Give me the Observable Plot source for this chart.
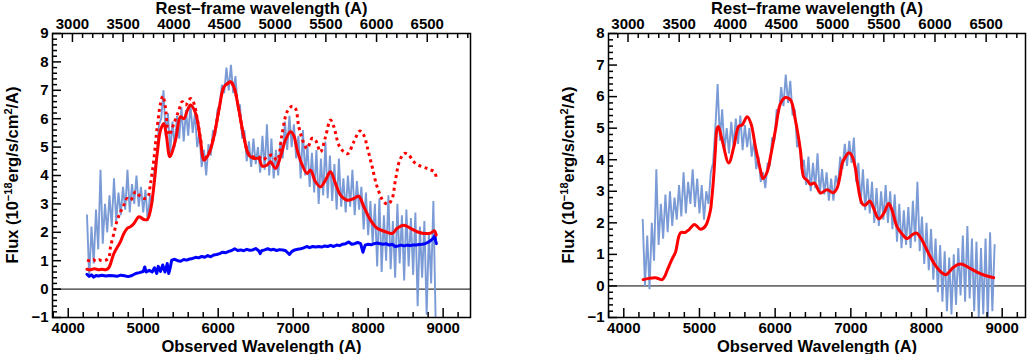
<!DOCTYPE html>
<html><head><meta charset="utf-8">
<script src="https://cdn.jsdelivr.net/npm/d3@7"></script>
<script src="https://cdn.jsdelivr.net/npm/@observablehq/plot@0.6"></script>
<style>
html,body{margin:0;padding:0;background:#fff;}
#wrap{display:flex;width:1028px;height:354px;overflow:hidden;}
#wrap > div{width:514px;height:354px;}
</style></head><body><div id="wrap"><div id="left"></div><div id="right"></div></div>
<script>
// ---------- data ----------
const zFactor = 1.352; // 1 + redshift (rest -> observed)
const obsTicks = [4000, 5000, 6000, 7000, 8000, 9000];
const restTicks = [3000, 3500, 4000, 4500, 5000, 5500, 6000, 6500];
const leftYTicks = [-1, 0, 1, 2, 3, 4, 5, 6, 7, 8, 9];
const rightYTicks = [-1, 0, 1, 2, 3, 4, 5, 6, 7, 8];

// observed spectrum sampled on a 30 A grid starting at 4250 A
const noiseStart = 4250, noiseStep = 30;
const leftNoise = [
  2.6,0.4,2.2,0.9,2.8,1.4,4.2,1.6,3.0,2.0,
  3.3,2.2,3.9,2.4,3.4,2.6,3.6,2.8,4.2,2.7,
  3.7,3.0,4.0,2.9,3.6,2.7,3.5,2.4,3.3,3.0,
  4.2,4.6,5.8,6.0,7.0,5.4,6.2,4.8,5.9,5.0,
  6.1,5.3,6.4,5.2,6.3,5.4,6.5,5.5,6.2,5.0,
  5.5,4.3,4.9,4.0,5.1,4.7,5.6,5.4,6.3,6.5,
  7.2,6.9,7.8,7.0,7.9,6.9,7.5,6.4,6.5,5.3,
  5.6,4.5,5.2,4.3,5.3,4.4,5.0,4.1,5.4,4.2,
  5.8,4.0,5.3,3.9,4.9,4.0,5.2,4.6,5.9,4.9,
  6.1,5.0,5.8,4.6,5.4,3.9,5.6,4.0,5.1,3.6,
  4.8,3.4,4.9,3.0,4.6,3.3,5.2,3.2,4.7,3.1,
  4.4,2.8,4.6,2.9,3.9,2.7,4.0,2.9,4.2,2.6,
  3.8,2.8,3.6,2.1,3.4,1.9,3.1,1.6,3.0,0.8,
  3.2,0.6,2.6,1.0,3.3,0.7,2.4,0.4,3.0,0.9,
  2.6,0.3,2.8,0.8,2.5,0.5,2.7,-0.6,2.2,0.4,
  2.4,-0.9,2.0,0.2,3.1,-1.1
];
const rightNoise = [
  2.1,0.0,1.6,-0.1,2.0,0.8,3.7,1.3,2.6,1.5,
  2.9,1.7,3.0,1.9,2.8,2.1,3.2,2.2,3.6,2.3,
  3.3,2.6,3.7,2.5,3.4,2.3,3.2,2.1,3.0,2.6,
  3.6,3.9,5.0,6.4,4.6,5.6,4.3,5.0,4.2,5.2,
  4.4,5.3,4.5,5.4,4.3,5.1,4.4,5.0,4.1,4.6,
  3.7,4.1,3.3,3.6,3.1,3.9,3.8,4.7,4.6,5.6,
  5.5,6.3,5.7,6.7,5.8,6.5,5.4,5.6,4.4,4.6,
  3.7,4.0,3.2,4.1,3.0,3.9,3.1,4.2,2.9,3.7,
  2.9,3.6,2.7,3.4,2.7,3.5,3.2,4.1,3.7,4.5,
  3.8,4.6,3.9,4.7,3.3,3.9,2.6,3.7,2.4,3.4,
  2.3,3.3,2.0,3.1,1.9,3.0,2.1,3.2,2.0,3.0,
  1.8,2.9,1.4,2.6,1.2,2.4,1.3,2.5,1.2,2.7,
  1.4,3.3,1.1,2.2,0.7,2.0,0.5,1.8,0.2,1.5,
  -0.2,1.3,-0.5,1.1,-0.8,0.9,-0.9,1.0,-0.6,1.2,
  -0.3,1.6,-0.5,1.9,-0.4,1.5,-0.8,1.4,-1.0,1.2,
  -0.9,1.5,-1.1,1.7,-0.8,1.3
];

// left: model fit (solid red)
const leftFitWave = [4250,4300,4350,4400,4450,4500,4540,4610,4697,4740,4787,4831,4876,4942,4980,5009,5053,5097,5141,5187,5231,5275,5311,5355,5431,5497,5542,5590,5631,5698,5764,5809,5876,5942,6009,6076,6130,6164,6209,6276,6342,6409,6476,6542,6587,6653,6697,6764,6831,6897,6964,7009,7053,7120,7187,7231,7297,7364,7431,7497,7564,7631,7720,7809,7875,7942,8031,8120,8231,8320,8387,8475,8564,8653,8742,8831,8884,8907];
const leftFitFlux = [0.70,0.68,0.72,0.68,0.70,0.68,0.75,1.26,1.67,1.95,2.14,2.20,2.31,2.55,2.50,2.45,2.45,2.78,3.60,4.78,5.60,5.83,5.36,4.66,5.25,6.07,6.00,6.30,6.48,6.19,5.25,4.54,4.77,5.36,6.30,7.12,7.25,7.30,7.12,6.30,5.36,4.72,4.60,4.60,4.33,4.37,4.48,4.25,4.66,5.25,5.54,5.40,4.90,4.37,4.07,4.19,3.78,3.60,3.84,4.13,3.72,3.31,3.13,3.19,3.27,2.90,2.43,2.14,2.02,1.96,2.14,2.25,2.14,2.02,1.96,1.97,2.05,1.90];

// left: alternative model (dotted red)
const leftDotWave = [4250,4290,4330,4370,4410,4450,4500,4540,4564,4609,4653,4698,4742,4787,4831,4898,4942,5009,5062,5097,5141,5187,5231,5262,5298,5342,5409,5476,5520,5564,5631,5676,5720,5764,5809,5876,5942,6009,6076,6130,6164,6209,6276,6342,6409,6476,6542,6600,6653,6720,6786,6853,6920,6987,7031,7075,7142,7187,7253,7297,7364,7431,7497,7542,7609,7675,7729,7809,7889,7942,7987,8053,8120,8209,8267,8320,8364,8422,8484,8542,8609,8698,8787,8840,8884,8911];
const leftDotFlux = [1.02,1.00,1.05,0.98,1.03,1.00,1.02,1.10,1.49,1.96,2.43,2.72,2.96,3.19,3.13,3.43,3.31,3.19,3.25,3.72,4.54,5.72,6.54,6.80,6.36,5.42,5.83,6.30,6.60,6.48,6.71,6.54,6.00,5.30,4.60,4.80,5.38,6.30,7.12,7.25,7.30,7.12,6.30,5.36,4.75,4.65,4.65,4.55,4.66,4.72,4.54,5.48,6.25,6.44,6.36,5.72,5.13,4.95,5.31,5.25,4.83,5.36,5.95,5.72,5.07,4.83,4.77,5.19,5.57,5.42,5.01,4.31,3.60,3.07,2.99,3.19,3.84,4.54,4.78,4.72,4.48,4.33,4.25,4.19,4.13,3.90];

// left: continuum (blue)
const leftContWave = [4250,4280,4310,4340,4370,4400,4450,4500,4550,4600,4650,4700,4750,4800,4850,4900,4950,5000,5020,5040,5080,5120,5150,5180,5200,5230,5260,5290,5320,5340,5360,5380,5420,5460,5500,5540,5580,5620,5660,5700,5740,5780,5820,5860,5900,5940,5980,6020,6060,6100,6140,6180,6220,6260,6300,6340,6380,6420,6460,6500,6540,6560,6580,6620,6660,6700,6740,6780,6820,6860,6900,6950,6980,7020,7060,7100,7140,7180,7220,7260,7300,7340,7380,7420,7460,7500,7540,7580,7620,7660,7700,7740,7780,7820,7860,7900,7930,7960,8000,8040,8080,8120,8160,8200,8240,8280,8320,8360,8400,8440,8480,8520,8560,8600,8640,8680,8720,8760,8800,8840,8870,8890,8900,8910];
const leftContFlux = [0.52,0.45,0.50,0.42,0.48,0.46,0.49,0.46,0.48,0.47,0.45,0.49,0.47,0.44,0.48,0.55,0.58,0.62,0.78,0.60,0.66,0.60,0.75,0.55,0.80,0.62,0.85,0.60,0.90,0.55,0.75,1.02,1.05,1.00,0.98,1.04,1.02,1.06,1.08,1.12,1.10,1.15,1.12,1.18,1.14,1.20,1.22,1.25,1.30,1.28,1.33,1.36,1.42,1.36,1.38,1.35,1.40,1.37,1.38,1.43,1.35,1.25,1.35,1.38,1.42,1.38,1.40,1.36,1.39,1.38,1.35,1.22,1.32,1.38,1.40,1.42,1.45,1.50,1.46,1.50,1.48,1.50,1.48,1.52,1.50,1.54,1.50,1.55,1.53,1.58,1.60,1.66,1.58,1.60,1.64,1.60,1.30,1.55,1.58,1.56,1.60,1.62,1.60,1.58,1.60,1.55,1.58,1.50,1.52,1.55,1.52,1.55,1.53,1.55,1.55,1.57,1.58,1.60,1.65,1.72,1.80,1.88,1.70,1.60];

// right: model fit (solid red)
const rightFitWave = [4256,4330,4419,4470,4507,4540,4573,4639,4683,4749,4815,4860,4934,5013,5079,5145,5160,5189,5210,5233,5250,5299,5387,5453,5519,5563,5630,5680,5740,5806,5840,5894,5938,6004,6070,6136,6202,6268,6334,6378,6423,6466,6519,6598,6687,6766,6818,6863,6885,6929,6973,7010,7061,7083,7149,7190,7250,7303,7369,7435,7501,7545,7611,7677,7744,7800,7866,7941,8029,8117,8206,8263,8338,8404,8470,8558,8668,8778,8888];
const rightFitFlux = [0.20,0.24,0.26,0.22,0.20,0.30,0.49,0.86,1.07,1.68,1.70,1.78,1.95,1.80,1.90,2.40,2.70,3.50,4.30,4.99,5.05,4.62,3.90,4.40,5.06,5.10,5.36,5.15,4.40,3.67,3.40,3.61,4.09,4.94,5.78,5.97,5.90,5.25,4.30,3.45,3.35,3.22,3.26,2.95,3.05,2.95,3.10,3.56,3.88,4.09,4.22,4.15,3.72,3.35,2.61,2.56,2.69,2.45,2.13,2.30,2.61,2.40,1.87,1.65,1.50,1.60,1.68,1.45,1.02,0.65,0.41,0.36,0.55,0.67,0.69,0.58,0.44,0.33,0.26];

// ---------- drawing ----------
const noiseColor = "#7b9bd6";
const pairs = (w, f) => w.map((x, i) => ({w: x, f: f[i]}));
const grid = (vals) => vals.map((f, i) => ({w: noiseStart + noiseStep * i, f}));

function panel({el, xDomain, yDomain, yTicks, marginLeft, marginRight, noise, fit, dotted, cont, titleX}) {
  const W = 514, H = 354, mt = 33, mb = 37;
  const fw = W - marginLeft - marginRight, fh = H - mt - mb;
  const inX = v => v >= xDomain[0] && v <= xDomain[1];
  const xMinor = d3.range(3800, 9500, 200).filter(v => v % 1000 !== 0).filter(inX);
  const restMajorObs = restTicks.map(r => r * zFactor);
  const restMinorObs = d3.range(2800, 7000, 100).filter(r => r % 500 !== 0).map(r => r * zFactor).filter(inX);
  const yMinor = d3.range(yDomain[0] * 5, yDomain[1] * 5).filter(k => k % 5 !== 0).map(k => k / 5);

  const marks = [
    Plot.ruleY([0], {stroke: "black", strokeWidth: 1}),
    Plot.line(grid(noise), {x: "w", y: "f", stroke: noiseColor, strokeWidth: 1.9, strokeLinejoin: "miter", clip: true}),
  ];
  if (cont) marks.push(Plot.line(cont, {x: "w", y: "f", stroke: "#0000ff", strokeWidth: 3, clip: true}));
  if (dotted) marks.push(Plot.line(dotted, {x: "w", y: "f", stroke: "#ff0000", strokeWidth: 3, strokeDasharray: "3,3.5", strokeLinecap: "butt", curve: "catmull-rom", clip: true}));
  marks.push(Plot.line(fit, {x: "w", y: "f", stroke: "#ff0000", strokeWidth: 3, curve: "catmull-rom", clip: true}));
  marks.push(
    // inward ticks: bottom (observed), top (rest), left (flux)
    Plot.tickX(obsTicks.filter(inX), {x: d => d, insetTop: fh - 9, stroke: "black", strokeWidth: 1.5}),
    Plot.tickX(xMinor, {x: d => d, insetTop: fh - 5, stroke: "black", strokeWidth: 1.5}),
    Plot.tickX(restMajorObs, {x: d => d, insetBottom: fh - 9, stroke: "black", strokeWidth: 1.5}),
    Plot.tickX(restMinorObs, {x: d => d, insetBottom: fh - 5, stroke: "black", strokeWidth: 1.5}),
    Plot.tickY(yTicks, {y: d => d, insetRight: fw - 9, stroke: "black", strokeWidth: 1.5}),
    Plot.tickY(yMinor, {y: d => d, insetRight: fw - 5, stroke: "black", strokeWidth: 1.5}),
    Plot.frame({stroke: "black", strokeWidth: 1.5}),
    Plot.axisX({anchor: "bottom", ticks: obsTicks, tickSize: 0, tickPadding: 5, tickFormat: d => String(d), label: null}),
    Plot.axisX({anchor: "top", ticks: restMajorObs, tickSize: 0, tickPadding: 5, tickFormat: d => String(Math.round(d / zFactor)), label: null}),
    Plot.axisY({anchor: "left", ticks: yTicks, tickSize: 0, tickPadding: 4, label: null}),
    Plot.text(["Rest\u2013frame wavelength (A)"], {frameAnchor: "top", dy: -20, lineAnchor: "bottom", fontSize: 16.5, fontWeight: "bold"}),
    Plot.text(["Observed Wavelength (A)"], {frameAnchor: "bottom", dy: 34, lineAnchor: "bottom", fontSize: 16.5, fontWeight: "bold"})
  );

  const chart = Plot.plot({
    width: W, height: H,
    marginTop: mt, marginBottom: mb, marginLeft, marginRight,
    x: {domain: xDomain},
    y: {domain: yDomain},
    style: {fontFamily: "'Liberation Sans', Arial, Helvetica, sans-serif", fontSize: "15px", fontWeight: "bold", color: "black", background: "white", overflow: "visible"},
    marks
  });

  const svg = d3.select(chart);
  const t = svg.append("text")
    .attr("transform", `translate(${titleX},${mt + fh / 2}) rotate(-90)`)
    .attr("text-anchor", "middle")
    .attr("fill", "black")
    .style("font-size", "16.5px").style("font-weight", "bold");
  t.append("tspan").text("Flux (10");
  t.append("tspan").attr("dy", -6).style("font-size", "11px").text("\u221218");
  t.append("tspan").attr("dy", 6).text("erg/s/cm");
  t.append("tspan").attr("dy", -6).style("font-size", "11px").text("2");
  t.append("tspan").attr("dy", 6).text("/A)");
  document.getElementById(el).appendChild(chart);
}

panel({
  el: "left", xDomain: [3790, 9365], yDomain: [-1, 9], yTicks: leftYTicks,
  marginLeft: 52, marginRight: 44,
  noise: leftNoise, fit: pairs(leftFitWave, leftFitFlux),
  dotted: pairs(leftDotWave, leftDotFlux), cont: pairs(leftContWave, leftContFlux),
  titleX: 17.5
});
panel({
  el: "right", xDomain: [3798, 9308], yDomain: [-1, 8], yTicks: rightYTicks,
  marginLeft: 94, marginRight: 3,
  noise: rightNoise, fit: pairs(rightFitWave, rightFitFlux),
  dotted: null, cont: null,
  titleX: 59.5
});
</script></body></html>
